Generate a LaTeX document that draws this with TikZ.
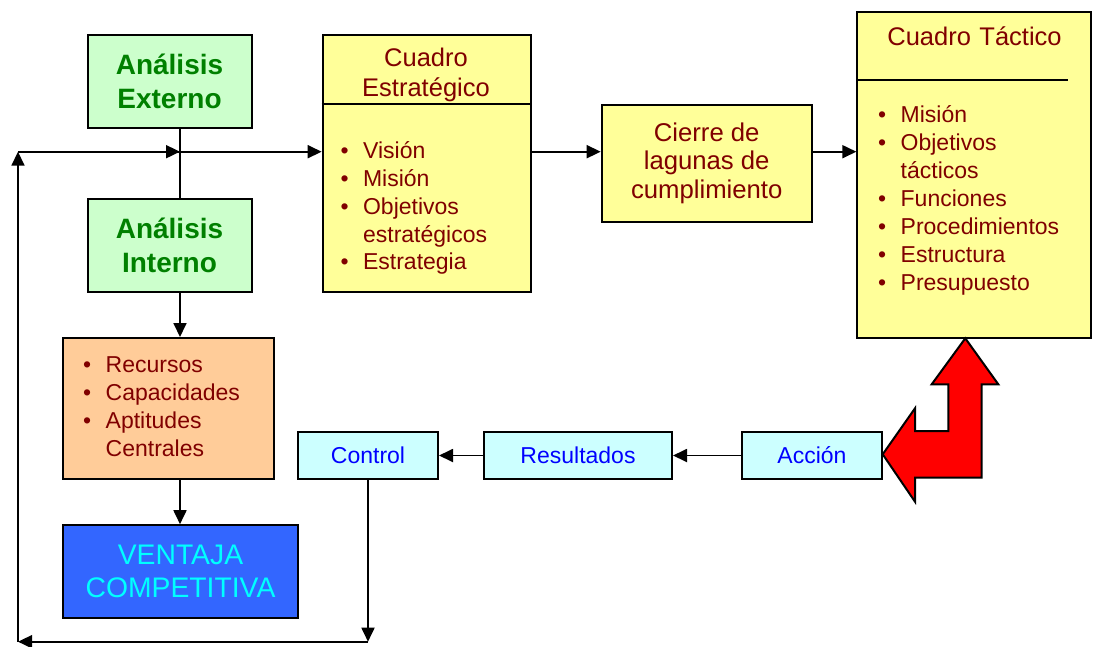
\documentclass[tikz,border=0pt]{standalone}
\usepackage{fontspec}
\setmainfont{Liberation Sans}
\usetikzlibrary{arrows.meta}
\definecolor{verdeclaro}{HTML}{CCFFCC}
\definecolor{verde}{HTML}{008000}
\definecolor{amarillo}{HTML}{FFFF99}
\definecolor{rojo}{HTML}{800000}
\definecolor{naranja}{HTML}{FFCC99}
\definecolor{azul}{HTML}{3366FF}
\definecolor{celeste}{HTML}{CCFFFF}
\definecolor{cian}{HTML}{00FFFF}
\definecolor{azultexto}{HTML}{0000FF}
\newcommand\pto{\makebox[22.6pt][l]{\textbullet}}
\newcommand\sig{\hspace*{22.6pt}}
\tikzset{
  caja/.style={draw=black, line width=2pt, inner sep=0pt, align=center},
  flecha/.style={line width=1.8pt, -{Triangle[length=14pt,width=13pt]}},
  linea/.style={line width=1.8pt},
  titulo/.style={anchor=base, inner sep=0pt, text width=210pt, align=center, text=rojo, font=\fontsize{25.5}{30}\selectfont},
  lista/.style={anchor=base west, inner sep=0pt, text width=200pt, align=left, text=rojo, font=\fontsize{23}{27.9}\selectfont},
}
\begin{document}
\begin{tikzpicture}[x=1pt,y=-1pt]
   \useasboundingbox (0,0) rectangle (1096,646);
   \coordinate (eje) at (180,0);
   \coordinate (esq-sup) at (18,151.7);
   \coordinate (esq-inf) at (18,641.7);
   % columna izquierda
   \node[caja, fill=verdeclaro, text=verde, font=\bfseries\fontsize{28}{34}\selectfont, minimum width=164, minimum height=93] (externo) at (169.5,81.5) {Análisis\\Externo};
   \node[caja, fill=verdeclaro, text=verde, font=\bfseries\fontsize{28}{34}\selectfont, minimum width=164, minimum height=93] (interno) at (169.5,245) {Análisis\\Interno};
   \node[caja, fill=naranja, minimum width=211, minimum height=141] (recursos) at (168.8,408.5) {};
   \node[lista] (l-recursos) at (82.9,372.7) {\pto Recursos\\ \pto Capacidades\\ \pto Aptitudes\\ \sig Centrales};
   \node[caja, fill=azul, text=cian, font=\fontsize{28.3}{33.3}\selectfont, minimum width=234.5, minimum height=93] (ventaja) at (180.5,571.7) {VENTAJA\\COMPETITIVA};
   % cuadros
   \node[caja, fill=amarillo, minimum width=208.3, minimum height=256.7] (estrategico) at (426.8,163.3) {};
   \node[titulo] (t-estrategico) at (426,66.7) {Cuadro\\Estratégico};
   \draw[linea] ([yshift=-70pt]estrategico.north west) -- ([yshift=-70pt]estrategico.north east);
   \node[lista] (l-estrategico) at (340.3,158.3) {\pto Visión\\ \pto Misión\\ \pto Objetivos\\ \sig estratégicos\\ \pto Estrategia};
   \node[caja, fill=amarillo, text=rojo, font=\fontsize{25.7}{28.5}\selectfont, minimum width=210, minimum height=116.7] (cierre) at (706.7,163.3) {Cierre de\\lagunas de\\cumplimiento};
   \node[caja, fill=amarillo, minimum width=233.7, minimum height=326.3] (tactico) at (974.2,174.8) {};
   \node[titulo] (t-tactico) at (974.5,45.7) {Cuadro Táctico};
   \draw[linea] ([yshift=-69.3pt]tactico.north west) -- ++(211.7,0);
   \node[lista] (l-tactico) at (877.9,122.7) {\pto Misión\\ \pto Objetivos\\ \sig tácticos\\ \pto Funciones\\ \pto Procedimientos\\ \pto Estructura\\ \pto Presupuesto};
   % fila de abajo
   \node[caja, fill=celeste, text=azultexto, font=\fontsize{23}{28}\selectfont, minimum width=140, minimum height=47] (control) at (368,455.5) {Control};
   \node[caja, fill=celeste, text=azultexto, font=\fontsize{23}{28}\selectfont, minimum width=188, minimum height=47] (resultados) at (578,455.5) {Resultados};
   \node[caja, fill=celeste, text=azultexto, font=\fontsize{23}{28}\selectfont, minimum width=140, minimum height=47] (accion) at (812,455.5) {Acción};
   % conexiones
   \draw[linea] (externo.south -| eje) -- (interno.north -| eje);
   \draw[flecha] (interno.south -| eje) -- (recursos.north -| eje);
   \draw[flecha] (recursos.south -| eje) -- (ventaja.north -| eje);
   \draw[flecha] (control.south) -- (control.south |- esq-inf);
   \draw[flecha] (control.south |- esq-inf) -- (esq-inf);
   \draw[flecha] (esq-inf) -- (esq-sup);
   \draw[flecha] (esq-sup) -- (estrategico.west |- esq-sup);
   \draw[flecha] (esq-sup) -- (esq-sup -| eje);
   \draw[flecha] (estrategico.east |- esq-sup) -- (cierre.west |- esq-sup);
   \draw[flecha] (cierre.east |- esq-sup) -- (tactico.west |- esq-sup);
   \draw[flecha] (accion.west) -- (resultados.east);
   \draw[flecha] (resultados.west) -- (control.east);
   % flecha roja
   \draw[line width=2pt, fill=red, line join=miter] (965.3,338.3) -- (998.3,384.3) -- (981.7,384.3) -- (981.7,477.7) -- (915,477.7) -- (915,501.7) -- (882.7,454.3) -- (915,408.3) -- (915,431) -- (948.3,431) -- (948.3,384.3) -- (931.7,384.3) -- cycle;
\end{tikzpicture}
\end{document}
